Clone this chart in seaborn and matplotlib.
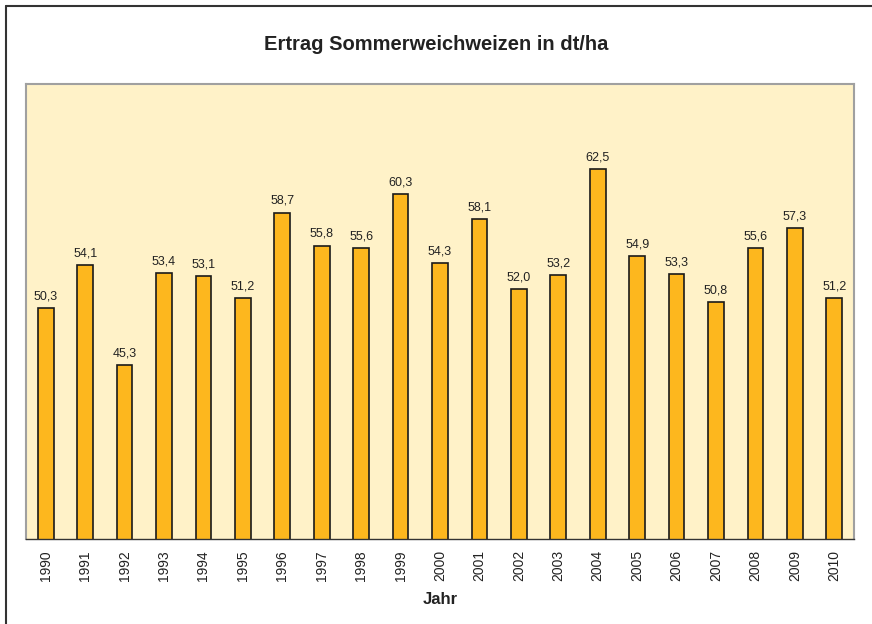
import matplotlib
matplotlib.use("Agg")
import matplotlib.pyplot as plt
import seaborn as sns
import pandas as pd
from matplotlib.lines import Line2D

# Daten
jahre = [str(j) for j in range(1990, 2011)]
ertrag = [50.3, 54.1, 45.3, 53.4, 53.1, 51.2, 58.7, 55.8, 55.6, 60.3, 54.3,
          58.1, 52.0, 53.2, 62.5, 54.9, 53.3, 50.8, 55.6, 57.3, 51.2]
titel = "Ertrag Sommerweichweizen in dt/ha"
x_titel = "Jahr"

df = pd.DataFrame({"Jahr": jahre, "Ertrag": ertrag})

sns.set_style("white")
plt.rcParams["font.family"] = ["Liberation Sans", "DejaVu Sans"]

fig = plt.figure(figsize=(8.72, 6.24), dpi=100)
ax = fig.add_axes([26 / 872, 1 - 539 / 624, (854 - 26) / 872, (539 - 84) / 624])

sns.barplot(data=df, x="Jahr", y="Ertrag", color="#FDB71E", saturation=1,
            width=0.4, edgecolor="#1a1a1a", linewidth=1.2, ax=ax)

ax.set_facecolor("#FFF2C8")
ax.set_ylim(30, 70)
ax.set_xlim(-0.5, len(jahre) - 0.5)
ax.set_yticks([])
ax.set_ylabel("")
ax.set_xlabel(x_titel, fontsize=12, fontweight="bold", color="#222222", labelpad=8)

# Ticks zwischen den Kategorien (Excel-Stil)
ax.set_xticks(range(len(jahre)))
ax.set_xticklabels(jahre, rotation=90, fontsize=10, color="#222222")
ax.tick_params(axis="x", which="major", length=0, pad=8)
ax.set_xticks([i - 0.5 for i in range(len(jahre) + 1)], minor=True)
ax.tick_params(axis="x", which="minor", length=4, width=1, color="#333333")

for s in ["left", "top", "right"]:
    ax.spines[s].set_color("#a0a0a0")
    ax.spines[s].set_linewidth(1.5)
ax.spines["bottom"].set_color("#333333")
ax.spines["bottom"].set_linewidth(1)

labels = [f"{v:.1f}".replace(".", ",") for v in ertrag]
ax.bar_label(ax.containers[0], labels=labels, padding=4, fontsize=9, color="#222222")

fig.suptitle(titel, x=0.5, y=1 - 44 / 624, va="center", fontsize=14.5,
             fontweight="bold", color="#222222")

# Rahmen links und oben
fig.add_artist(Line2D([6 / 872, 6 / 872], [0, 1 - 6 / 624], transform=fig.transFigure,
                      color="#333333", linewidth=1.5))
fig.add_artist(Line2D([6 / 872, 1], [1 - 6 / 624, 1 - 6 / 624], transform=fig.transFigure,
                      color="#333333", linewidth=1.5))

plt.savefig("out.png", dpi=100)
plt.close()
